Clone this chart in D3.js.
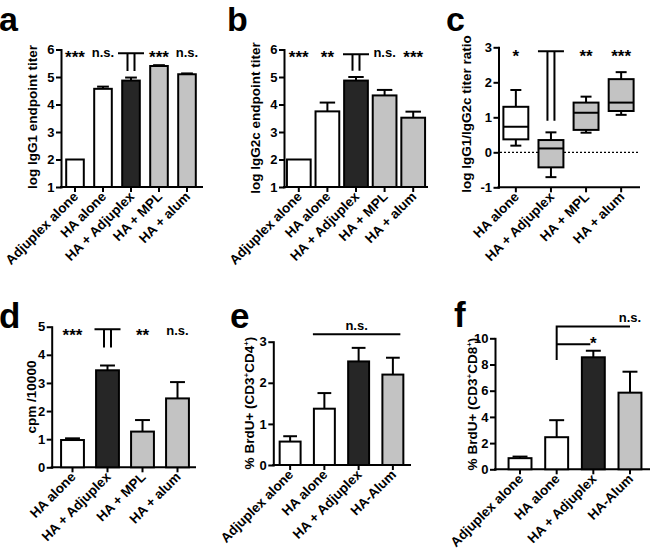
<!DOCTYPE html>
<html><head><meta charset="utf-8">
<script src="https://cdn.jsdelivr.net/npm/d3@7"></script>
<style>
body{margin:0;background:#fff}
svg{display:block;font-family:"Liberation Sans",Arial,Helvetica,sans-serif;font-weight:bold}
</style>
</head><body>
<svg id="fig" width="650" height="549"></svg>
<script>
// ---------- data ----------
const catsA = ["Adjuplex alone","HA alone","HA + Adjuplex","HA + MPL","HA + alum"];
const igg1Mean = [2.0, 4.57, 4.87, 5.40, 5.10];
const igg1Err  = [0.0, 0.08, 0.11, 0.03, 0.03];
const sigA     = ["***","n.s.","","***","n.s."];

const catsB = ["Adjuplex alone","HA alone","HA + Adjuplex","HA + MPL","HA + alum"];
const igg2cMean = [2.0, 3.75, 4.87, 4.33, 3.52];
const igg2cErr  = [0.0, 0.32, 0.13, 0.20, 0.22];
const sigB      = ["***","**","","n.s.","***"];

const catsC = ["HA alone","HA + Adjuplex","HA + MPL","HA + alum"];
const ratioMin = [0.19, -0.71, 0.56, 1.07];
const ratioQ1  = [0.37, -0.43, 0.64, 1.18];
const ratioMed = [0.73,  0.11, 1.13, 1.42];
const ratioQ3  = [1.30,  0.35, 1.42, 2.09];
const ratioMax = [1.78,  0.57, 1.59, 2.29];
const sigC     = ["*","","**","***"];

const catsD = ["HA alone","HA + Adjuplex","HA + MPL","HA + alum"];
const cpmMean = [0.97, 3.45, 1.27, 2.45];
const cpmErr  = [0.06, 0.17, 0.41, 0.58];
const sigD    = ["***","","**","n.s."];

const catsE = ["Adjuplex alone","HA alone","HA + Adjuplex","HA-Alum"];
const cd4Mean = [0.57, 1.37, 2.52, 2.20];
const cd4Err  = [0.13, 0.38, 0.33, 0.41];

const catsF = ["Adjuplex alone","HA alone","HA + Adjuplex","HA-Alum"];
const cd8Mean = [0.85, 2.45, 8.55, 5.85];
const cd8Err  = [0.12, 1.30, 0.50, 1.60];

const ticksA = [1,2,3,4,5,6];
const ticksC = [-1,0,1,2,3];
const ticksD = [0,1,2,3,4,5];
const ticksE = [0,1,2,3];
const ticksF = [0,2,4,6,8,10];

// ---------- styles ----------
const WHITE = "#ffffff", DARK = "#262626", GRAY = "#c3c3c3";
const fillA = [WHITE, WHITE, DARK, GRAY, GRAY];
const fillC = [WHITE, GRAY, GRAY, GRAY];
const fillD = [WHITE, DARK, GRAY, GRAY];
const fillE = [WHITE, WHITE, DARK, GRAY];

const svg = d3.select("#fig");
const SW = 2;
const STAR_SIZE = 17, STAR_DY = 6;

function makePanel(cfg) {
  const g = svg.append("g");
  const x = d3.scaleBand().domain(cfg.cats).range(cfg.xr)
    .paddingInner(cfg.pi).paddingOuter(cfg.pi / 2);
  const y = d3.scaleLinear().domain(cfg.yd).range(cfg.yr);
  // y axis
  const ya = g.append("g").attr("transform", `translate(${cfg.ax},0)`)
    .call(d3.axisLeft(y).tickValues(cfg.ticks).tickSize(5).tickSizeOuter(0).tickPadding(1.5)
      .tickFormat(d => String(d)));
  ya.select(".domain").attr("stroke-width", SW).attr("stroke-linecap", "square");
  ya.selectAll(".tick line").attr("stroke-width", SW);
  ya.selectAll(".tick text").attr("font-size", 13).attr("font-weight", "bold")
    .attr("font-family", "Liberation Sans, Arial, sans-serif").attr("fill", "#000");
  // x axis
  const xa = g.append("g").attr("transform", `translate(0,${cfg.yr[0]})`)
    .call(d3.axisBottom(x).tickSize(5).tickSizeOuter(0).tickFormat(""));
  xa.select(".domain").remove();
  xa.selectAll(".tick line").attr("stroke-width", SW);
  g.append("line").attr("x1", cfg.ax).attr("x2", cfg.xEnd)
    .attr("y1", cfg.yr[0]).attr("y2", cfg.yr[0])
    .attr("stroke", "#000").attr("stroke-width", SW).attr("stroke-linecap", "square");
  // x labels
  g.selectAll("text.xl").data(cfg.cats).enter().append("text")
    .attr("class", "xl")
    .attr("transform", d => `translate(${x(d) + x.bandwidth() / 2 + 4},${cfg.yr[0] + 10.5}) rotate(-45)`)
    .attr("text-anchor", "end").attr("font-size", 13.5).text(d => d);
  // y label
  const yl = g.append("text")
    .attr("transform", `translate(${cfg.ylx},${cfg.yly}) rotate(-90)`)
    .attr("text-anchor", "middle").attr("dy", "0.35em").attr("font-size", 13.5);
  if (cfg.ylabelParts) {
    cfg.ylabelParts.forEach(p => {
      const t = yl.append("tspan").text(p.t);
      if (p.sup) t.attr("font-size", 8).attr("dy", -5);
      else if (p.after) t.attr("dy", 5);
    });
  } else yl.text(cfg.ylabel);
  // panel letter
  svg.append("text").attr("x", cfg.lx).attr("y", cfg.ly)
    .attr("font-size", cfg.lsize).attr("font-weight", "bold").text(cfg.letter);
  return {g, x, y};
}

function drawBars(p, cats, means, errs, fills, y0) {
  const {g, x, y} = p;
  const bw = x.bandwidth();
  cats.forEach((c, i) => {
    const cx = x(c) + bw / 2;
    if (errs[i] > 0) {
      g.append("line").attr("x1", cx).attr("x2", cx)
        .attr("y1", y(means[i])).attr("y2", y(means[i] + errs[i]))
        .attr("stroke", "#000").attr("stroke-width", SW);
      g.append("line").attr("x1", cx - bw * 0.3).attr("x2", cx + bw * 0.3)
        .attr("y1", y(means[i] + errs[i])).attr("y2", y(means[i] + errs[i]))
        .attr("stroke", "#000").attr("stroke-width", SW);
    }
    g.append("rect").attr("x", x(c) + 1).attr("width", bw - 2)
      .attr("y", y(means[i])).attr("height", y(y0) - y(means[i]))
      .attr("fill", fills[i]).attr("stroke", "#000").attr("stroke-width", SW);
  });
}

function drawSig(p, cats, sig, level) {
  const {g, x, y} = p;
  cats.forEach((c, i) => {
    if (!sig[i]) return;
    const star = sig[i].indexOf("*") >= 0;
    g.append("text").attr("x", x(c) + x.bandwidth() / 2)
      .attr("y", y(level) + (star ? STAR_DY : 0))
      .attr("text-anchor", "middle").attr("font-size", star ? STAR_SIZE : 13).text(sig[i]);
  });
}

function drawBracket(p, cat, top, bottom) {
  const {g, x, y} = p;
  const cx = x(cat) + x.bandwidth() / 2;
  const path = d3.path();
  path.moveTo(cx - 13, y(top)); path.lineTo(cx + 13, y(top));
  path.moveTo(cx - 3.5, y(top)); path.lineTo(cx - 3.5, y(bottom));
  path.moveTo(cx + 3.5, y(top)); path.lineTo(cx + 3.5, y(bottom));
  g.append("path").attr("d", path.toString()).attr("fill", "none")
    .attr("stroke", "#000").attr("stroke-width", SW);
}

// ---------- panel a ----------
const pA = makePanel({cats: catsA, xr: [61, 201], pi: 0.3, ax: 61, xEnd: 202,
  yd: [1, 6], yr: [187, 49.5], ticks: ticksA, ylabel: "log IgG1 endpoint titer",
  ylx: 32, yly: 117, letter: "a", lx: -1, ly: 31, lsize: 34});
drawBars(pA, catsA, igg1Mean, igg1Err, fillA, 1);
drawSig(pA, catsA, sigA, 5.74);
drawBracket(pA, catsA[2], 5.86, 5.22);

// ---------- panel b ----------
const pB = makePanel({cats: catsB, xr: [284.5, 427.5], pi: 0.1, ax: 284, xEnd: 427,
  yd: [1, 6], yr: [187, 49.5], ticks: ticksA, ylabel: "log IgG2c endpoint titer",
  ylx: 255, yly: 118, letter: "b", lx: 227, ly: 31, lsize: 34});
drawBars(pB, catsB, igg2cMean, igg2cErr, fillA, 1);
drawSig(pB, catsB, sigB, 5.74);
drawBracket(pB, catsB[2], 5.83, 5.23);

// ---------- panel c ----------
const pC = makePanel({cats: catsC, xr: [498.3, 638.7], pi: 0.29, ax: 498.5, xEnd: 639,
  yd: [-1, 3], yr: [187.3, 47.3], ticks: ticksC, ylabel: "log IgG1/IgG2c titer ratio",
  ylx: 466, yly: 114, letter: "c", lx: 446, ly: 31, lsize: 34});
{
  const {g, x, y} = pC;
  g.append("line").attr("x1", 500).attr("x2", 639).attr("y1", y(0)).attr("y2", y(0))
    .attr("stroke", "#000").attr("stroke-width", 1.3).attr("stroke-dasharray", "2,2");
  const bw = x.bandwidth();
  catsC.forEach((c, i) => {
    const cx = x(c) + bw / 2;
    const wl = (a, b) => g.append("line").attr("x1", cx).attr("x2", cx).attr("y1", y(a)).attr("y2", y(b))
      .attr("stroke", "#000").attr("stroke-width", SW);
    wl(ratioMax[i], ratioQ3[i]); wl(ratioQ1[i], ratioMin[i]);
    [ratioMax[i], ratioMin[i]].forEach(v => g.append("line").attr("x1", cx - bw * 0.22).attr("x2", cx + bw * 0.22)
      .attr("y1", y(v)).attr("y2", y(v)).attr("stroke", "#000").attr("stroke-width", SW));
    g.append("rect").attr("x", x(c)).attr("width", bw).attr("y", y(ratioQ3[i]))
      .attr("height", y(ratioQ1[i]) - y(ratioQ3[i])).attr("fill", fillC[i])
      .attr("stroke", "#000").attr("stroke-width", SW);
    g.append("line").attr("x1", x(c)).attr("x2", x(c) + bw).attr("y1", y(ratioMed[i])).attr("y2", y(ratioMed[i]))
      .attr("stroke", "#000").attr("stroke-width", SW);
  });
}
drawSig(pC, catsC, sigC, 2.74);
drawBracket(pC, catsC[1], 2.89, 0.9);

// ---------- panel d ----------
const pD = makePanel({cats: catsD, xr: [55, 195], pi: 0.29, ax: 51.7, xEnd: 195,
  yd: [0, 5], yr: [467.3, 326.7], ticks: ticksD, ylabel: "cpm /10000",
  ylx: 31, yly: 397, letter: "d", lx: -1, ly: 328, lsize: 35});
drawBars(pD, catsD, cpmMean, cpmErr, fillD, 0);
drawSig(pD, catsD, sigD, 4.71);
drawBracket(pD, catsD[1], 4.91, 4.26);

// ---------- panel e ----------
const pE = makePanel({cats: catsE, xr: [273, 410], pi: 0.33, ax: 273.3, xEnd: 410,
  yd: [0, 3], yr: [465, 341.7], ticks: ticksE,
  ylabelParts: [{t: "% BrdU+ (CD3"}, {t: "+", sup: true}, {t: "CD4", after: true}, {t: "+", sup: true}, {t: ")", after: true}],
  ylx: 249, yly: 403, letter: "e", lx: 230, ly: 328, lsize: 35});
drawBars(pE, catsE, cd4Mean, cd4Err, fillE, 0);
{
  const {g, x, y} = pE;
  const x1 = x(catsE[1]), x2 = x(catsE[3]) + x.bandwidth() - 4;
  g.append("line").attr("x1", x1).attr("x2", x2).attr("y1", y(3.18)).attr("y2", y(3.18))
    .attr("stroke", "#000").attr("stroke-width", SW);
  g.append("text").attr("x", (x1 + x2) / 2).attr("y", y(3.28)).attr("text-anchor", "middle")
    .attr("font-size", 13).text("n.s.");
}

// ---------- panel f ----------
const pF = makePanel({cats: catsF, xr: [501.7, 648.3], pi: 0.32, ax: 495, xEnd: 650,
  yd: [0, 10], yr: [469.3, 338.3], ticks: ticksF,
  ylabelParts: [{t: "% BrdU+ (CD3"}, {t: "+", sup: true}, {t: "CD8", after: true}, {t: "+", sup: true}, {t: ")", after: true}],
  ylx: 472.5, yly: 404, letter: "f", lx: 454, ly: 327, lsize: 35});
drawBars(pF, catsF, cd8Mean, cd8Err, fillE, 0);
{
  const {g, x, y} = pF;
  const c = d => x(d) + x.bandwidth() / 2;
  const xs = c(catsF[1]);
  const p = d3.path();
  p.moveTo(xs, y(8.34)); p.lineTo(xs, y(10.9)); p.lineTo(c(catsF[3]), y(10.9));
  p.moveTo(xs, y(9.54)); p.lineTo(c(catsF[2]) - 3, y(9.54));
  g.append("path").attr("d", p.toString()).attr("fill", "none").attr("stroke", "#000").attr("stroke-width", SW);
  g.append("text").attr("x", c(catsF[2])).attr("y", y(9.54) + 4.5).attr("text-anchor", "middle")
    .attr("font-size", STAR_SIZE).text("*");
  g.append("text").attr("x", c(catsF[3])).attr("y", y(11.27)).attr("text-anchor", "middle")
    .attr("font-size", 13).text("n.s.");
}
</script>
</body></html>
